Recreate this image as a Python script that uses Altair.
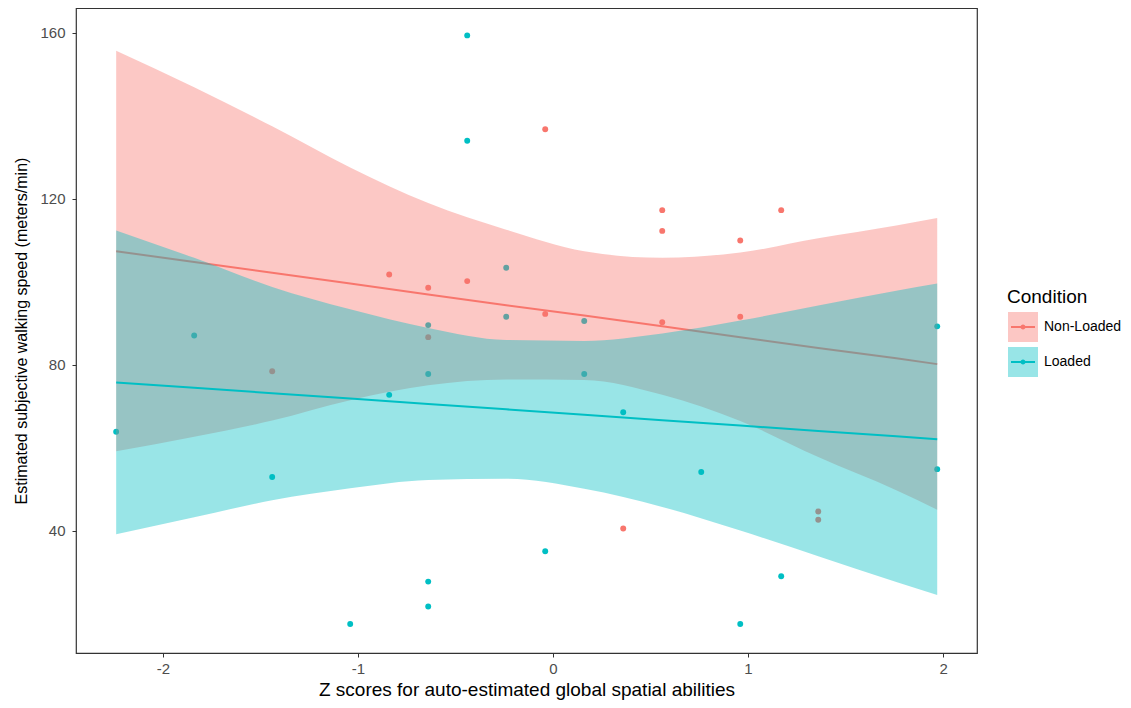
import altair as alt
import pandas as pd

# ---- categories / colours ----
conditions = ["Non-Loaded", "Loaded"]
cond_colors = ["#F8766D", "#00BFC4"]

# ---- observed points ----
nl_x = [-0.84, -0.64, -0.44, -0.64, -0.04, 0.56, 0.56, 1.17, 0.96, -0.04, 0.56, 0.96, -1.44, 1.36, 1.36, 0.36]
nl_y = [101.8, 98.6, 100.2, 86.7, 136.8, 117.3, 112.3, 117.3, 110.0, 92.3, 90.3, 91.6, 78.5, 44.7, 42.7, 40.6]
ld_x = [-0.44, -0.44, -0.24, -0.24, -0.64, -1.84, 0.16, 1.97, -0.64, -0.84, -2.24,
        -1.44, -0.64, -0.64, -1.04, 0.16, 0.36, 0.76, 1.97, -0.04, 1.17, 0.96]
ld_y = [159.4, 134.0, 103.4, 91.6, 89.6, 87.1, 90.6, 89.3, 77.8, 72.8, 63.9,
        53.0, 27.8, 21.8, 17.6, 77.8, 68.6, 54.2, 54.9, 35.1, 29.1, 17.6]

# ---- fitted lines and confidence bands ----
fit_x = [-2.24, -1.84, -1.44, -1.04, -0.64, -0.24, 0.16, 0.56, 0.96, 1.36, 1.76, 1.97]
nl_fit = [107.4, 104.8, 102.2, 99.6, 97.0, 94.4, 91.9, 89.3, 86.7, 84.1, 81.6, 80.2]
nl_hi = [155.7, 146.9, 137.5, 127.6, 119.0, 112.6, 107.4, 105.8, 107.1, 110.5, 113.6, 115.4]
nl_lo = [59.2, 62.7, 66.6, 71.5, 75.1, 76.5, 76.4, 72.8, 66.5, 57.8, 49.8, 45.1]
ld_fit = [75.8, 74.5, 73.2, 71.9, 70.6, 69.3, 68.0, 66.7, 65.4, 64.1, 62.8, 62.1]
ld_hi = [112.4, 105.8, 98.8, 93.4, 88.9, 86.0, 85.8, 87.6, 90.7, 94.3, 97.9, 99.6]
ld_lo = [39.2, 43.3, 47.4, 50.3, 52.3, 52.6, 50.2, 45.8, 40.1, 33.9, 27.7, 24.6]

x_ticks = [-2, -1, 0, 1, 2]
y_ticks = [40, 80, 120, 160]

points = pd.DataFrame({
    "x": nl_x + ld_x,
    "y": nl_y + ld_y,
    "Condition": ["Non-Loaded"] * len(nl_x) + ["Loaded"] * len(ld_x),
})
fits = pd.DataFrame({
    "x": fit_x + fit_x,
    "y": nl_fit + ld_fit,
    "lo": nl_lo + ld_lo,
    "hi": nl_hi + ld_hi,
    "Condition": ["Non-Loaded"] * len(fit_x) + ["Loaded"] * len(fit_x),
})

FONT = "Liberation Sans"
xs = alt.Scale(domain=[-2.446, 2.174], nice=False, zero=False)
ys = alt.Scale(domain=[10.6, 166.0], nice=False, zero=False)

x_axis = alt.Axis(values=x_ticks, title="Z scores for auto-estimated global spatial abilities",
                  labelExpr="datum.value + ''", grid=False, domain=False,
                  tickSize=4, tickColor="#333333", labelColor="#4D4D4D", labelFontSize=15,
                  labelPadding=4, titleFontSize=19, titleFontWeight="normal", titleColor="#000000",
                  titlePadding=4, labelFont=FONT, titleFont=FONT)
y_axis = alt.Axis(values=y_ticks, title="Estimated subjective walking speed (meters/min)",
                  grid=False, domain=False, tickSize=4, tickColor="#333333",
                  labelColor="#4D4D4D", labelFontSize=15, labelPadding=7,
                  titleFontSize=16, titleFontWeight="normal", titleColor="#000000",
                  titlePadding=10, labelFont=FONT, titleFont=FONT)

X = alt.X("x:Q", scale=xs, axis=x_axis)
color_enc = alt.Color("Condition:N", scale=alt.Scale(domain=conditions, range=cond_colors), legend=None)

LEG_SIZE = 900
LEG_ROWPAD = -9

# fill scale listed in the opposite order (kept apart from the colour scale), legend lists it in display order
fill_legend = alt.Legend(title="Condition", orient="none", legendX=931, legendY=280, padding=0,
                         values=conditions,
                         symbolType="square", symbolSize=LEG_SIZE, symbolStrokeWidth=2,
                         symbolStrokeColor="transparent", symbolOpacity=0.4,
                         titleFontSize=19, titleFontWeight="normal", titleColor="#000000", titleFont=FONT,
                         titlePadding=4, labelFontSize=14, labelFont=FONT, labelOffset=5,
                         labelOpacity=0, rowPadding=LEG_ROWPAD)
fill_enc = alt.Fill("Condition:N",
                    scale=alt.Scale(domain=conditions[::-1], range=cond_colors[::-1]),
                    legend=fill_legend)

# glyph: invisible moves span the same square as the fill swatch, then a line with a dot
glyph = ("M-1,-1M1,1"
         "M-0.8,0L0.8,0"
         "M0.1,0A0.1,0.1,0,1,1,-0.1,0A0.1,0.1,0,1,1,0.1,0"
         "M0.04,0A0.04,0.04,0,1,1,-0.04,0A0.04,0.04,0,1,1,0.04,0")
stroke_legend = alt.Legend(title="Condition", orient="none", legendX=931, legendY=280, padding=0,
                           symbolType=glyph, symbolSize=LEG_SIZE, symbolStrokeWidth=2,
                           symbolFillColor="transparent", symbolOpacity=1,
                           titleFontSize=19, titleFontWeight="normal", titleFont=FONT, titleOpacity=0,
                           titlePadding=4, labelFontSize=14, labelFont=FONT, labelColor="#000000",
                           labelOffset=5, rowPadding=LEG_ROWPAD)

base_pts = alt.Chart(points)
base_fit = alt.Chart(fits)

pts = base_pts.mark_circle(size=35, opacity=1).encode(
    x=X, y=alt.Y("y:Q", scale=ys, axis=y_axis), color=color_enc)


def band(cond):
    return base_fit.transform_filter(alt.datum.Condition == cond).mark_area(
        opacity=0.4, interpolate="monotone").encode(
        x=X, y=alt.Y("lo:Q", scale=ys, axis=y_axis), y2="hi:Q", fill=fill_enc)


def line(cond):
    return base_fit.transform_filter(alt.datum.Condition == cond).mark_line(strokeWidth=2).encode(
        x=X, y=alt.Y("y:Q", scale=ys, axis=y_axis), color=color_enc)


legend_carrier = base_fit.mark_line(strokeWidth=2, opacity=0).encode(
    x=X, y=alt.Y("y:Q", scale=ys, axis=y_axis),
    stroke=alt.Stroke("Condition:N", sort="descending", scale=alt.Scale(range=cond_colors),
                      legend=stroke_legend))

chart = alt.layer(
    pts,
    band("Non-Loaded"), line("Non-Loaded"),
    band("Loaded"), line("Loaded"),
    legend_carrier,
).properties(
    width=901, height=645,
    autosize=alt.AutoSizeParams(type="none"),
    padding={"left": 68, "top": 0, "right": 146, "bottom": 47},
).configure(
    background="white", font=FONT
).configure_view(
    stroke="#333333", strokeWidth=1.2
)

chart.save("out.html", embed_options={"renderer": "svg", "actions": False})
